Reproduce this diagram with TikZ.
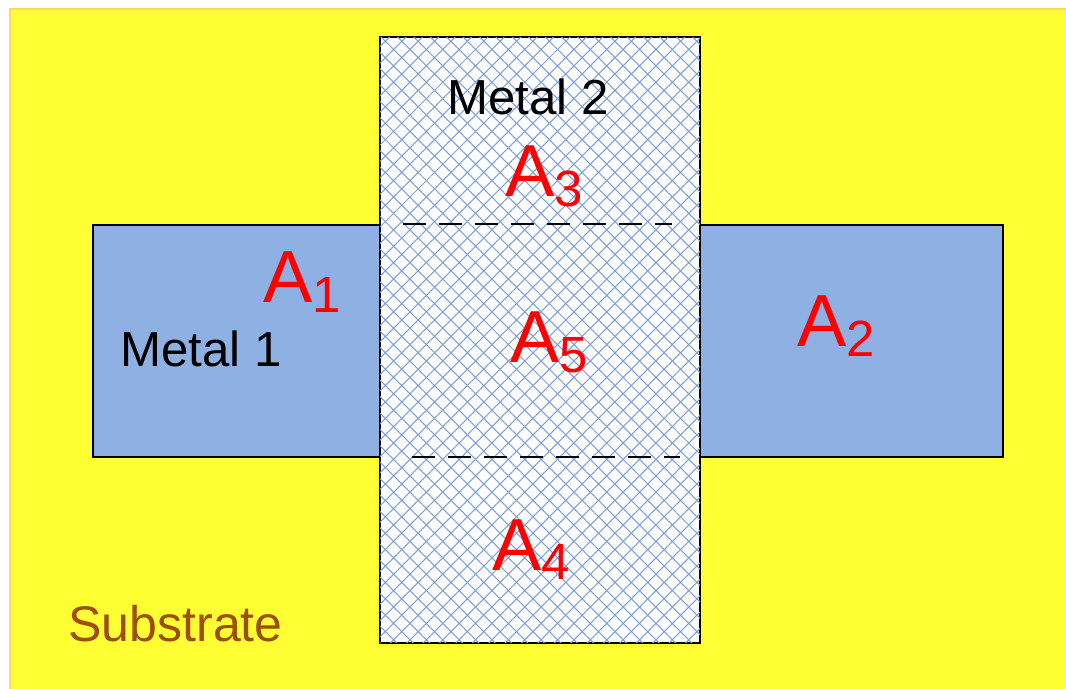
\documentclass[tikz,border=0pt]{standalone}
\usepackage{fontspec}
\setmainfont{Liberation Sans}
\usetikzlibrary{positioning,patterns.meta}

\definecolor{substrateyellow}{RGB}{255,255,51}
\definecolor{substrateedge}{RGB}{255,214,100}
\definecolor{metalblue}{RGB}{142,176,226}
\definecolor{hatchblue}{RGB}{125,160,222}
\definecolor{substratebrown}{RGB}{158,78,0}

\newcommand{\arealabel}[1]{\fontsize{42}{42}\selectfont A\raisebox{-0.2cm}{\fontsize{29}{29}\selectfont #1}}

\tikzset{
    metalone/.style={draw, line width=1.1pt, fill=metalblue, rectangle, inner sep=0pt},
    metaltwo/.style={draw, line width=1.5pt, fill=white, rectangle, inner sep=0pt,
        postaction={pattern={Lines[angle=45,distance=6.6pt,line width=0.6pt]}, pattern color=hatchblue},
        postaction={pattern={Lines[angle=-45,distance=6.6pt,line width=0.6pt]}, pattern color=hatchblue}},
    cutline/.style={line width=1.4pt, dash pattern=on 0.46cm off 0.26cm},
    area/.style={text=red, inner sep=0pt, anchor=base west},
    layername/.style={inner sep=0pt, anchor=base west, font=\fontsize{28}{28}\selectfont}
}

\begin{document}
\begin{tikzpicture}[x=0.02cm, y=-0.02cm]
\useasboundingbox (0,0) rectangle (1066,689);

% Substrate
\fill[substrateyellow] (10,9) rectangle (1070,693);
\draw[substrateedge, line width=1pt] (10,693) -- (10,9) -- (1070,9);

% Metal 1
\node[metalone, minimum width=18.2cm, minimum height=4.64cm] (metal1) at (548,341) {};

% Metal 2
\node[metaltwo, minimum width=6.4cm, minimum height=12.12cm] (metal2) at (540,340) {};

% Cut lines
\coordinate (cuttopL) at (403,224);
\coordinate (cuttopR) at (672,224);
\coordinate (cutbotL) at (412,457);
\coordinate (cutbotR) at (680,457);
\draw[cutline] (cuttopL) -- (cuttopR);
\draw[cutline] (cutbotL) -- (cutbotR);

% Names
\node[layername] (name2) at (447,115) {Metal 2};
\node[layername] (name1) at (120,367) {Metal 1};
\node[layername, text=substratebrown, font=\fontsize{28.5}{28.5}\selectfont] (namesub) at (68,641) {Substrate};

% Areas
\node[area] (a1) at (263,303) {\arealabel{1}};
\node[area] (a2) at (797,347) {\arealabel{2}};
\node[area] (a3) at (505,197) {\arealabel{3}};
\node[area] (a4) at (492,570) {\arealabel{4}};
\node[area] (a5) at (510,363) {\arealabel{5}};

\end{tikzpicture}
\end{document}
